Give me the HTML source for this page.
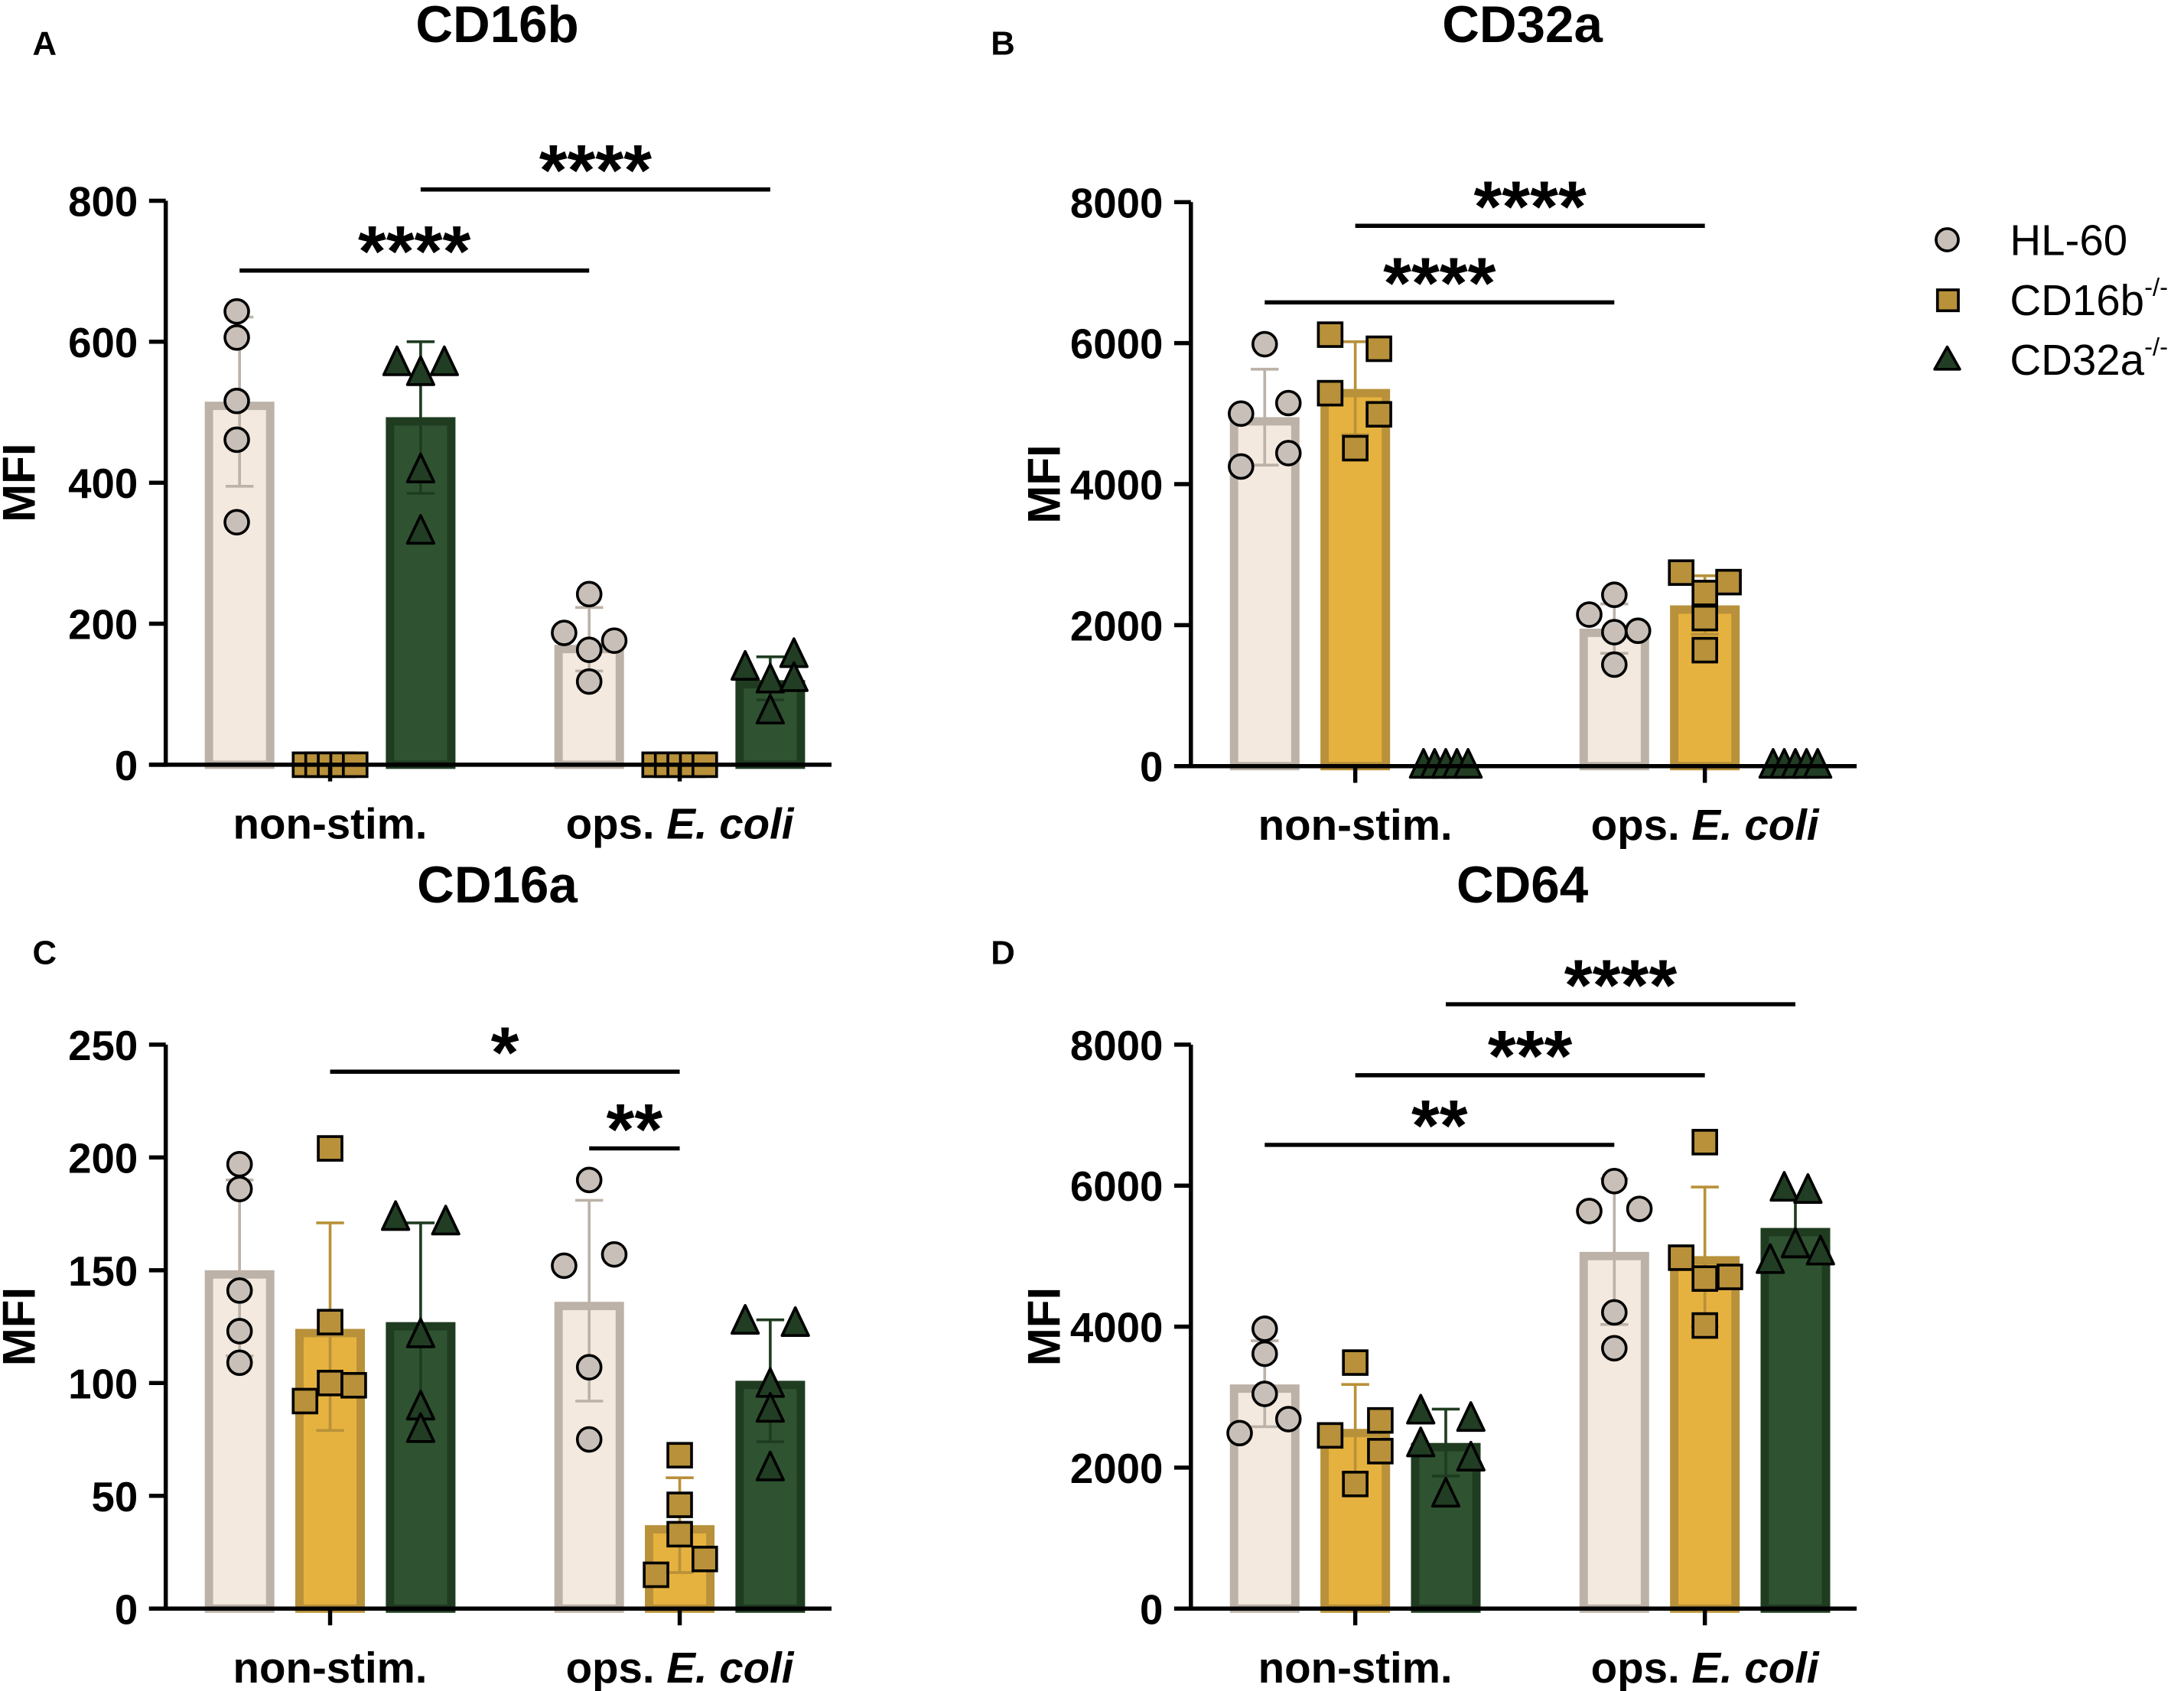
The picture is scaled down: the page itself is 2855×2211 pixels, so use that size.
<!DOCTYPE html>
<html><head><meta charset="utf-8"><style>
html,body{margin:0;padding:0;background:#fff}
svg{display:block;font-family:"Liberation Sans",Arial,sans-serif}
</style></head><body>
<svg id="fig" width="2855" height="2211" viewBox="0 0 1568 1214" xmlns="http://www.w3.org/2000/svg"></svg>
<script>
// ---- data ----
const groups = ["non-stim.", "ops. E. coli"];
const seriesNames = ["HL-60", "CD16b-/-", "CD32a-/-"];
// Panel A: CD16b
const aMeans = [[515, 0, 493], [170, 0, 120]];
const aErr = [[[395,635],[0,0],[385,600]], [[133,223],[0,0],[92,153]]];
const aPts = [[[643,606,516,461,344],[0,0,0,0,0],[569,555,569,417,330]], [[242,187,176,163,118],[0,0,0,0,0],[137,155,119,121,75]]];
const aTicks = [0,200,400,600,800];
// Panel B: CD32a
const bMeans = [[4950, 5350, 0], [1950, 2280, 0]];
const bErr = [[[4270,5630],[4700,6020],[0,0]], [[1600,2300],[1870,2700],[0,0]]];
const bPts = [[[5985,5150,5000,4440,4250],[6120,5920,5290,4990,4510],[0,0,0,0,0]], [[2430,2150,1900,1920,1440],[2745,2610,2455,2100,1645],[0,0,0,0,0]]];
const bTicks = [0,2000,4000,6000,8000];
// Panel C: CD16a
const cMeans = [[150, 124, 127], [136, 37, 101]];
const cErr = [[[112,190],[79,171],[84,171]], [[92,181],[16,58],[74,128]]];
const cPts = [[[197,186,141,123,109],[204,127,92,100,99],[173,171,121,89,79]], [[190,152,157,107,75],[68,46,33,22,15],[127,126,99,88,62]]];
const cTicks = [0,50,100,150,200,250];
// Panel D: CD64
const dMeans = [[3180, 2550, 2350], [5060, 5000, 5400]];
const dErr = [[[2580,3800],[1930,3180],[1880,2830]], [[4030,6100],[4000,5980],[4980,5830]]];
const dPts = [[[3970,3615,3046,2688,2490],[3490,2670,2457,2234,1768],[2790,2686,2325,2123,1612]], [[6064,5640,5670,4202,3694],[6617,4978,4682,4705,4016],[5951,5920,5150,4926,5046]]];
const dTicks = [0,2000,4000,6000,8000];
// significance: [from group, from series, to group, to series, value, label]
const aSig = [[0,0,1,0,701,"****"],[0,2,1,2,816,"****"]];
const bSig = [[0,0,1,0,6578,"****"],[0,1,1,1,7664,"****"]];
const cSig = [[0,1,1,1,238,"*"],[1,0,1,1,204,"**"]];
const dSig = [[0,0,1,0,6578,"**"],[0,1,1,1,7566,"***"],[0,2,1,2,8573,"****"]];

// ---- styles (horizontal marker offsets, px) ----
const aOff = [[[-2,-2,-2,-2,-2],[-18,-9,0,9,18],[-17,0,17,0,0]], [[0,-18,18,0,0],[-18,-9,0,9,18],[-18,17,0,17,0]]];
const bOff = [[[0,17,-17,17,-17],[-18,17,-18,17,0],[-16,-8,0,8,16]], [[0,-18,0,17,0],[-17,17,0,0,0],[-16,-8,0,8,16]]];
const cOff = [[[0,0,0,0,0],[0,0,-18,0,17],[-18,18,0,0,0]], [[0,-18,18,0,0],[0,0,0,18,-17],[-18,18,0,0,0]]];
const dOff = [[[0,0,0,17,-18],[0,18,-18,18,0],[-18,18,-18,18,0]], [[0,-18,18,0,0],[0,-17,0,18,0],[-8,9,0,-18,18]]];
const barFill = ["#f3e9de","#e6b23f","#2f5331"];
const barStroke = ["#bcb2a8","#b8913a","#1f3c21"];
const ptFill = ["#c8c0b8","#b8913a","#213d23"];
const NS = "http://www.w3.org/2000/svg";
const svg = document.getElementById("fig");
function mk(tag, attrs, parent, text){
  const e = document.createElementNS(NS, tag);
  for (const k in attrs) e.setAttribute(k, attrs[k]);
  if (text !== undefined) e.textContent = text;
  (parent||svg).appendChild(e);
  return e;
}

function panel(cfg){
  const g = mk("g", {});
  
  
  const x0 = cfg.x0, yTop = cfg.yTop, yBot = cfg.yBot, maxV = cfg.ticks[cfg.ticks.length-1];
  const ys = v => yBot - v/maxV*(yBot-yTop);
  const gc = [x0+118, x0+369];
  const xs = (gi, si) => gc[gi] + (si-1)*65;
  const t = mk("text", {x:x0+238, y:cfg.titleY, "font-size":37, "font-weight":"bold", "text-anchor":"middle"}, g, cfg.title);
  
  
  const l = mk("text", {x:cfg.letterX, y:cfg.letterY, "font-size":24, "font-weight":"bold", "text-anchor":"middle"}, g, cfg.letter);
  
  
  for (let gi=0; gi<2; gi++){
    for (let si=0; si<3; si++){
      const m = cfg.means[gi][si], cx = xs(gi,si);
      if (m > 0){
        const b = mk("rect", {x:cx-22, y:ys(m)+3, width:44, height:Math.max(0, yBot-ys(m)-3), fill:barFill[si], stroke:barStroke[si], "stroke-width":6}, g);
        
        
        const [lo, hi] = cfg.err[gi][si];
        const eg = mk("g", {stroke:barStroke[si], "stroke-width":2}, g);
        
        
        mk("line", {x1:cx, x2:cx, y1:ys(lo), y2:ys(hi)}, eg);
        mk("line", {x1:cx-10, x2:cx+10, y1:ys(lo), y2:ys(lo)}, eg);
        mk("line", {x1:cx-10, x2:cx+10, y1:ys(hi), y2:ys(hi)}, eg);
      }
      cfg.pts[gi][si].forEach((v, k) => {
        const px = cx + cfg.off[gi][si][k];
        const py = ys(v);
        let p;
        if (si===0) p = mk("circle", {cx:px, cy:py, r:8.5, fill:ptFill[0], stroke:"#000", "stroke-width":2}, g);
        else if (si===1) p = mk("rect", {x:px-8.5, y:py-8.5, width:17, height:17, fill:ptFill[1], stroke:"#000", "stroke-width":2}, g);
        else p = mk("polygon", {points:`${px},${py-12} ${px+9.5},${py+8} ${px-9.5},${py+8}`, fill:ptFill[2], stroke:"#000", "stroke-width":2, "stroke-linejoin":"round"}, g);
        
        
      });
    }
  }
  const ax = mk("g", {stroke:"#000", "stroke-width":3}, g);
  
  
  mk("line", {x1:x0, x2:x0, y1:yTop, y2:yBot+1.5}, ax);
  mk("line", {x1:x0-12, x2:x0+478, y1:yBot, y2:yBot}, ax);
  cfg.ticks.forEach(v => {
    mk("line", {x1:x0-12, x2:x0, y1:ys(v), y2:ys(v)}, ax);
    const tl = mk("text", {x:x0-20, y:ys(v)+11, "font-size":30, "font-weight":"bold", "text-anchor":"end"}, g, v);
    
    
  });
  gc.forEach((c, gi) => {
    mk("line", {x1:c, x2:c, y1:yBot, y2:yBot+12}, ax);
    const xl = mk("text", {x:c, y:yBot+53, "font-size":31, "font-weight":"bold", "text-anchor":"middle"}, g);
    
    
    if (gi===0) xl.textContent = groups[0];
    else { mk("tspan", {}, xl, "ops. "); mk("tspan", {"font-style":"italic"}, xl, "E. coli"); }
  });
  const yl = mk("text", {x:0, y:0, "font-size":33, "font-weight":"bold", "text-anchor":"middle", transform:`translate(${x0-94},${(yTop+yBot)/2}) rotate(-90)`}, g, "MFI");
  
  
  cfg.sig.forEach(s => {
    const xa = xs(s[0], s[1]), xb = xs(s[2], s[3]), y = ys(s[4]);
    const sg = mk("g", {}, g);
    
    
    mk("line", {x1:xa, x2:xb, y1:y, y2:y, stroke:"#000", "stroke-width":3}, sg);
    mk("text", {x:(xa+xb)/2, y:y+4, "font-size":52, "font-weight":"bold", "text-anchor":"middle"}, sg, s[5]);
  });
}

panel({name:"panel-a-cd16b", title:"CD16b", letter:"A", letterX:32, letterY:39, titleY:30, x0:119, yTop:144, yBot:549, ticks:aTicks, means:aMeans, err:aErr, pts:aPts, off:aOff, sig:aSig});
panel({name:"panel-b-cd32a", title:"CD32a", letter:"B", letterX:720, letterY:39, titleY:30, x0:855, yTop:145, yBot:550, ticks:bTicks, means:bMeans, err:bErr, pts:bPts, off:bOff, sig:bSig});
panel({name:"panel-c-cd16a", title:"CD16a", letter:"C", letterX:32, letterY:692, titleY:648, x0:119, yTop:750, yBot:1155, ticks:cTicks, means:cMeans, err:cErr, pts:cPts, off:cOff, sig:cSig});
panel({name:"panel-d-cd64", title:"CD64", letter:"D", letterX:720, letterY:692, titleY:648, x0:855, yTop:750, yBot:1155, ticks:dTicks, means:dMeans, err:dErr, pts:dPts, off:dOff, sig:dSig});

const lg = mk("g", {});


const legY = [172, 215, 258];
for (let i=0;i<3;i++){
  const e = mk("g", {}, lg);
  
  
  const y = legY[i];
  if (i===0) mk("circle", {cx:1398, cy:y, r:8, fill:ptFill[0], stroke:"#000", "stroke-width":2}, e);
  else if (i===1) mk("rect", {x:1391, y:y-7, width:15, height:15, fill:ptFill[1], stroke:"#000", "stroke-width":2}, e);
  else mk("polygon", {points:`1398,${y-9} 1407,${y+7} 1389,${y+7}`, fill:ptFill[2], stroke:"#000", "stroke-width":2, "stroke-linejoin":"round"}, e);
  const tx = mk("text", {x:1443, y:y+11, "font-size":31}, e);
  if (i===0) tx.textContent = "HL-60";
  else {
    mk("tspan", {}, tx, i===1 ? "CD16b" : "CD32a");
    mk("tspan", {"font-size":18, dy:-14}, tx, "-/-");
  }
}
</script>
</body></html>
